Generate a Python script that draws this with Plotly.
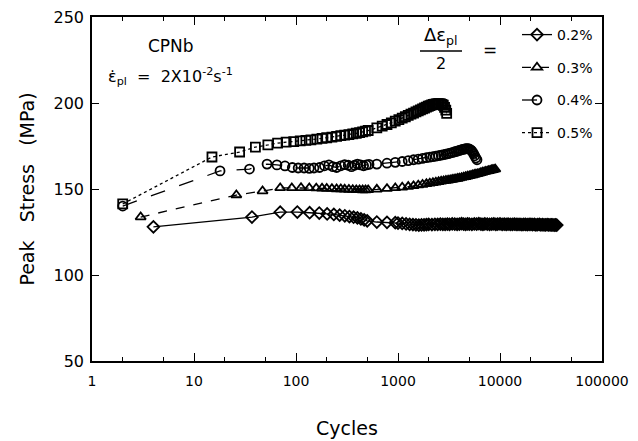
import plotly.graph_objects as go

# ---- data ----
labels = ["0.2%", "0.3%", "0.4%", "0.5%"]

cyc_02 = [4, 37, 70, 103, 136, 169, 202, 235, 268, 301, 334, 367, 400, 433, 466, 499,
          620, 780, 940,
          1000, 1100, 1200, 1300, 1400, 1500, 1600, 1700, 1800, 1900, 2000, 2150, 2300, 2450,
          2600, 2750, 2900, 3050, 3200, 3400, 3600, 3800, 4000, 4200, 4400, 4600, 4800, 5000,
          5300, 5600, 5900, 6200, 6500, 6800, 7100, 7500, 7900, 8300, 8700, 9100, 9500, 10000,
          10500, 11000, 11500, 12000, 12600, 13200, 13800, 14400, 15000, 15700, 16400, 17100,
          17800, 18500, 19300, 20100, 20900, 21700, 22500, 23400, 24300, 25200, 26100, 27000,
          28000, 29000, 30000, 31000, 32000, 33000, 34000, 35000, 36000]
sig_02 = [128.0, 133.7, 136.5, 136.6, 136.2, 136.0, 135.5, 135.2, 134.8, 134.4, 134.0, 133.6,
          133.2, 132.6, 132.0, 131.5, 130.8, 130.6, 130.4,
          130.2, 130.0, 129.7, 129.5, 129.3, 129.2, 129.0, 129.1, 129.2, 129.3, 129.4, 129.3,
          129.5, 129.4, 129.6, 129.5, 129.4, 129.6, 129.5, 129.7, 129.6, 129.5, 129.6, 129.8,
          129.6, 129.5, 129.7, 129.6, 129.5, 129.7, 129.6, 129.8, 129.6, 129.5, 129.7, 129.6,
          129.5, 129.6, 129.7, 129.5, 129.6, 129.7, 129.5, 129.6, 129.4, 129.6, 129.5, 129.4,
          129.6, 129.5, 129.4, 129.5, 129.3, 129.5, 129.4, 129.3, 129.4, 129.5, 129.3, 129.4,
          129.2, 129.3, 129.4, 129.2, 129.3, 129.2, 129.1, 129.3, 129.2, 129.1, 129.2, 129.1,
          129.0, 129.1, 129.0]

cyc_03 = [3, 26, 47, 70, 91, 112, 135, 158, 180, 200, 225, 250, 275, 300, 330, 360, 390, 420,
          450, 480, 510, 620, 780, 940, 1100, 1260, 1420, 1580, 1740, 1900, 2050, 2200, 2350,
          2500, 2650, 2800, 2950, 3100, 3250, 3400, 3550, 3700, 3850, 4000, 4200, 4400, 4600,
          4800, 5000, 5200, 5400, 5600, 5800, 6000, 6250, 6500, 6750, 7000, 7250, 7500, 7750,
          8000, 8250, 8500, 8750, 9000]
sig_03 = [133.7, 146.5, 148.8, 150.6, 150.6, 150.7, 150.6, 150.5, 150.4, 150.3, 150.2, 150.0,
          150.0, 149.8, 149.7, 149.6, 149.5, 149.5, 149.4, 149.4, 149.5, 149.8, 150.2, 150.6,
          151.0, 151.4, 151.8, 152.2, 152.6, 153.0, 153.3, 153.6, 153.9, 154.2, 154.5, 154.7,
          154.9, 155.1, 155.3, 155.5, 155.7, 155.9, 156.1, 156.3, 156.6, 156.9, 157.1, 157.4,
          157.6, 157.9, 158.1, 158.4, 158.6, 158.8, 159.1, 159.4, 159.7, 159.9, 160.2, 160.4,
          160.6, 160.8, 161.0, 161.2, 161.4, 161.5]

cyc_04 = [2, 18, 35, 52, 65, 78, 92, 105, 120, 135, 150, 170, 190, 210, 230, 250, 275, 300,
          325, 350, 375, 400, 430, 460, 490, 520, 620, 780, 940, 1100, 1260, 1420, 1580, 1740,
          1900, 2050, 2200, 2350, 2500, 2650, 2800, 2950, 3100, 3250, 3400, 3550, 3700, 3850,
          4000, 4150, 4300, 4450, 4600, 4750, 4900, 5050, 5200, 5350, 5500, 5650, 5800, 5950]
sig_04 = [140.1, 160.5, 161.6, 164.5, 164.0, 163.4, 162.5, 162.2, 162.2, 162.0, 162.2, 162.5,
          163.5, 164.0, 163.0, 162.5, 163.5, 164.2, 163.8, 163.0, 163.8, 164.5, 164.0, 163.5,
          164.0, 164.3, 164.5, 165.0, 165.5, 166.0, 166.5, 167.0, 167.4, 167.8, 168.2, 168.5,
          168.8, 169.1, 169.4, 169.7, 170.0, 170.3, 170.6, 170.9, 171.2, 171.5, 171.8, 172.1,
          172.4, 172.7, 173.0, 173.2, 173.4, 173.5, 173.4, 173.1, 172.6, 171.8, 170.6, 169.3,
          168.0, 167.0]

cyc_05 = [2, 15, 28, 40, 53, 66, 80, 95, 110, 125, 140, 160, 180, 200, 225, 250, 275, 300,
          330, 360, 390, 420, 450, 480, 510, 620, 700, 780, 860, 940, 1020, 1100, 1180, 1260,
          1340, 1420, 1500, 1580, 1660, 1740, 1820, 1900, 1980, 2060, 2140, 2220, 2300, 2380,
          2460, 2540, 2620, 2700, 2780, 2860, 2940, 3000]
sig_05 = [141.3, 168.6, 171.5, 174.4, 175.6, 176.7, 177.2, 177.6, 178.0, 178.3, 178.6, 179.0,
          179.4, 179.8, 180.2, 180.6, 181.0, 181.3, 181.6, 182.0, 182.4, 182.8, 183.2, 183.6,
          184.0, 185.5, 186.5, 187.5, 188.5, 189.5, 190.3, 191.2, 192.0, 192.8, 193.5, 194.1,
          194.8, 195.4, 196.0, 196.6, 197.1, 197.6, 198.1, 198.5, 198.9, 199.2, 199.4, 199.5,
          199.6, 199.6, 199.5, 199.2, 198.7, 197.5, 195.8, 194.0]

x_ticks = [1, 10, 100, 1000, 10000, 100000]
x_ticktext = ["1", "10", "100", "1000", "10000", "100000"]
y_ticks = [50, 100, 150, 200, 250]

series = [
    (labels[0], cyc_02, sig_02, "diamond-open", "solid", 9),
    (labels[1], cyc_03, sig_03, "triangle-up-open", "dash", 9),
    (labels[2], cyc_04, sig_04, "circle-open", "longdash", 9),
    (labels[3], cyc_05, sig_05, "square-open", "dot", 9),
]

FONT = "DejaVu Sans"
W, H = 638, 441
L, R, T, B = 92, 36, 17, 80
PW, PH = W - L - R, H - T - B

fig = go.Figure()
for i, (name, xs, ys, sym, dash, ms) in enumerate(series):
    fig.add_trace(go.Scatter(
        x=xs, y=ys, name=name, mode="lines+markers",
        legendgroup=name,
        line=dict(color="black", width=1.3, dash=dash),
        marker=dict(symbol=sym, size=ms, color="black", line=dict(color="black", width=1.8)),
    ))

def px_x(p):
    return (p - L) / PW

def px_y(p):
    return (H - B - p) / PH

fig.update_layout(
    width=W, height=H,
    margin=dict(l=L, r=R, t=T, b=B, autoexpand=False),
    paper_bgcolor="white", plot_bgcolor="white",
    font=dict(family=FONT, color="black", size=15),
    showlegend=True,
    legend=dict(
        x=px_x(517), y=px_y(19), xanchor="left", yanchor="top",
        bgcolor="rgba(0,0,0,0)", borderwidth=0,
        font=dict(size=14, family=FONT),
        traceorder="grouped", tracegroupgap=11.5,
        itemwidth=30,
    ),
    xaxis=dict(
        type="log", range=[0, 5], automargin=False,
        tickmode="array", tickvals=x_ticks, ticktext=x_ticktext,
        ticks="inside", ticklen=8, tickwidth=1.2, tickcolor="black",
        minor=dict(ticks="inside", ticklen=4, tickwidth=1, tickcolor="black", showgrid=False),
        showline=True, linecolor="black", linewidth=1.5, mirror="ticks",
        showgrid=False, zeroline=False,
        ticklabelstandoff=6,
        tickfont=dict(size=14, family=FONT),
        title=dict(text="Cycles", font=dict(size=19, family=FONT), standoff=34),
    ),
    yaxis=dict(
        range=[50, 250], automargin=False,
        tickmode="array", tickvals=y_ticks,
        ticks="inside", ticklen=7, tickwidth=1.2, tickcolor="black",
        showline=True, linecolor="black", linewidth=1.5, mirror="ticks",
        showgrid=False, zeroline=False,
        ticklabelstandoff=3,
        tickfont=dict(size=16, family=FONT),
        title=dict(text="Peak\u00a0\u00a0\u00a0Stress\u00a0\u00a0\u00a0(MPa)",
                   font=dict(size=19, family=FONT), standoff=14),
    ),
)

ann = [
    dict(text="CPNb", x=px_x(171), y=px_y(46), font=dict(size=17)),
    dict(text="ε\u0307<sub>pl</sub>\u00a0\u00a0=\u00a0\u00a02X10<sup>-2</sup>s<sup>-1</sup>",
         x=px_x(106), y=px_y(76), xanchor="left", font=dict(size=16)),
    dict(text="Δε<sub>pl</sub>", x=px_x(441), y=px_y(36), font=dict(size=18)),
    dict(text="2", x=px_x(441), y=px_y(63), font=dict(size=16)),
    dict(text="=", x=px_x(490), y=px_y(50), font=dict(size=17)),
]
for a in ann:
    a.setdefault("xanchor", "center")
    fig.add_annotation(xref="paper", yref="paper", showarrow=False, yanchor="middle", **a)

fig.add_shape(type="line", xref="paper", yref="paper",
              x0=px_x(420), x1=px_x(462), y0=px_y(51), y1=px_y(51),
              line=dict(color="black", width=1.3))

fig.write_html("out.html")
